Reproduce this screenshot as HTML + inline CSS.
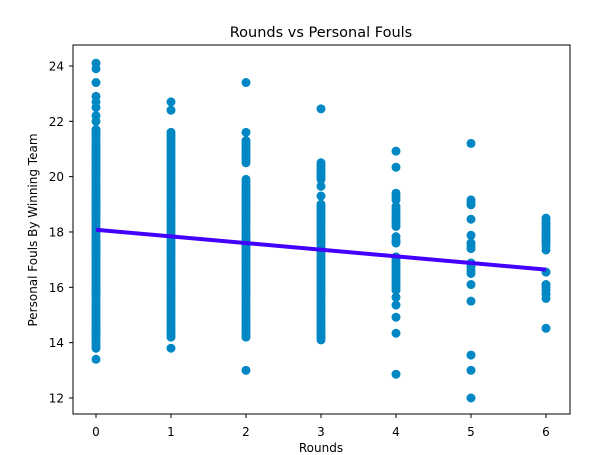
<!DOCTYPE html>
<html><head><meta charset="utf-8"><style>
body{margin:0;background:#fff;}
svg{display:block;font-family:"DejaVu Sans","Liberation Sans",sans-serif;}
</style></head><body>
<svg id="chart" width="600" height="455">
<rect width="600" height="455" fill="#fff"/>
<g id="pts"></g>
<g id="fit"></g>
<rect x="73" y="45" width="497" height="369" fill="none" stroke="#000" stroke-width="1"/>
<g id="axes"></g>
<text x="321" y="37" font-size="14.5" text-anchor="middle">Rounds vs Personal Fouls</text>
<text x="321" y="455" dy="-3" font-size="12" text-anchor="middle">Rounds</text>
<text transform="translate(37,230) rotate(-90)" font-size="12" text-anchor="middle">Personal Fouls By Winning Team</text>
</svg>
<script>
const rounds0 = [24.1,23.9,23.4,22.9,22.7,22.5,22.2,22.0,21.7,21.6,21.5,21.4,21.3,21.2,21.1,21.0,20.9,20.8,20.7,20.6,20.5,20.4,20.3,20.2,20.1,20.0,19.9,19.8,19.7,19.6,19.5,19.4,19.3,19.2,19.1,19.0,18.9,18.8,18.7,18.6,18.5,18.4,18.3,18.2,18.1,18.0,17.9,17.8,17.7,17.6,17.5,17.4,17.3,17.2,17.1,17.0,16.9,16.8,16.7,16.6,16.5,16.4,16.3,16.2,16.1,16.0,15.9,15.8,15.7,15.6,15.5,15.4,15.3,15.2,15.1,15.0,14.9,14.8,14.7,14.6,14.5,14.4,14.3,14.2,14.1,14.0,13.9,13.8,13.4];
const rounds1 = [22.7,22.4,21.6,21.5,21.4,21.3,21.2,21.1,21.0,20.9,20.8,20.7,20.6,20.5,20.4,20.3,20.2,20.1,20.0,19.9,19.8,19.7,19.6,19.5,19.4,19.3,19.2,19.1,19.0,18.9,18.8,18.7,18.6,18.5,18.4,18.3,18.2,18.1,18.0,17.9,17.8,17.7,17.6,17.5,17.4,17.3,17.2,17.1,17.0,16.9,16.8,16.7,16.6,16.5,16.4,16.3,16.2,16.1,16.0,15.9,15.8,15.7,15.6,15.5,15.4,15.3,15.2,15.1,15.0,14.9,14.8,14.7,14.6,14.5,14.4,14.3,14.2,13.8];
const rounds2 = [23.4,21.6,21.3,21.2,21.1,21.0,20.9,20.8,20.7,20.6,20.5,19.9,19.8,19.7,19.6,19.5,19.4,19.3,19.2,19.1,19.0,18.9,18.8,18.7,18.6,18.5,18.4,18.3,18.2,18.1,18.0,17.9,17.8,17.7,17.6,17.5,17.4,17.3,17.2,17.1,17.0,16.9,16.8,16.7,16.6,16.5,16.4,16.3,16.2,16.1,16.0,15.9,15.8,15.7,15.6,15.5,15.4,15.3,15.2,15.1,15.0,14.9,14.8,14.7,14.6,14.5,14.4,14.3,14.2,13.0];
const rounds3 = [22.45,20.5,20.4,20.3,20.2,20.1,20.0,19.9,19.65,19.3,19.0,18.9,18.8,18.7,18.6,18.5,18.4,18.3,18.2,18.1,18.0,17.9,17.8,17.7,17.6,17.5,17.4,17.3,17.2,17.1,17.0,16.9,16.8,16.7,16.6,16.5,16.4,16.3,16.2,16.1,16.0,15.9,15.8,15.7,15.6,15.5,15.4,15.3,15.2,15.1,15.0,14.9,14.8,14.7,14.6,14.5,14.4,14.3,14.2,14.1];
const rounds4 = [20.92,20.34,19.4,19.28,19.16,18.92,18.8,18.7,18.6,18.5,18.4,18.3,18.2,17.83,17.7,17.6,17.1,17.0,16.9,16.8,16.7,16.6,16.5,16.4,16.3,16.2,16.1,16.0,15.9,15.64,15.36,14.92,14.34,12.86];
const rounds5 = [21.2,19.16,19.06,18.98,18.46,17.88,17.6,17.5,17.4,16.88,16.75,16.6,16.5,16.1,15.5,13.55,13.0,12.0];
const rounds6 = [18.5,18.4,18.3,18.2,18.1,18.0,17.9,17.8,17.7,17.6,17.5,17.35,16.55,16.1,16.0,15.9,15.75,15.6,14.52];
const columns = [rounds0,rounds1,rounds2,rounds3,rounds4,rounds5,rounds6];
const xTicks = [0,1,2,3,4,5,6];
const yTicks = [12,14,16,18,20,22,24];
const lineIntercept = 18.08;
const lineSlope = -0.24;

const NS="http://www.w3.org/2000/svg";
function xs(v){return 96+v*75;}
function ys(v){return 398-(v-12)*27.67;}
const pts=document.getElementById('pts');
columns.forEach((col,i)=>{col.forEach(v=>{
  const c=document.createElementNS(NS,'circle');
  c.setAttribute('cx',xs(i));c.setAttribute('cy',ys(v));c.setAttribute('r',4.5);c.setAttribute('fill','#0087c4');
  
  
  pts.appendChild(c);
});});
const fit=document.getElementById('fit');
const ln=document.createElementNS(NS,'line');
ln.setAttribute('x1',xs(0));ln.setAttribute('y1',ys(lineIntercept));
ln.setAttribute('x2',xs(6));ln.setAttribute('y2',ys(lineIntercept+6*lineSlope));
ln.setAttribute('stroke','#4400ff');ln.setAttribute('stroke-width',4);


fit.appendChild(ln);
const ax=document.getElementById('axes');
xTicks.forEach(t=>{
  const l=document.createElementNS(NS,'line');
  l.setAttribute('x1',xs(t));l.setAttribute('x2',xs(t));l.setAttribute('y1',414);l.setAttribute('y2',418);l.setAttribute('stroke','#000');
  
  
  ax.appendChild(l);
  const tx=document.createElementNS(NS,'text');
  tx.setAttribute('x',xs(t));tx.setAttribute('y',436);tx.setAttribute('font-size',12);tx.setAttribute('text-anchor','middle');
  tx.textContent=t;
  
  
  ax.appendChild(tx);
});
yTicks.forEach(t=>{
  const l=document.createElementNS(NS,'line');
  l.setAttribute('x1',69);l.setAttribute('x2',73);l.setAttribute('y1',ys(t));l.setAttribute('y2',ys(t));l.setAttribute('stroke','#000');
  
  
  ax.appendChild(l);
  const tx=document.createElementNS(NS,'text');
  tx.setAttribute('x',64);tx.setAttribute('y',ys(t)+4.5);tx.setAttribute('font-size',12);tx.setAttribute('text-anchor','end');
  tx.textContent=t;
  
  
  ax.appendChild(tx);
});
</script>
</body></html>
